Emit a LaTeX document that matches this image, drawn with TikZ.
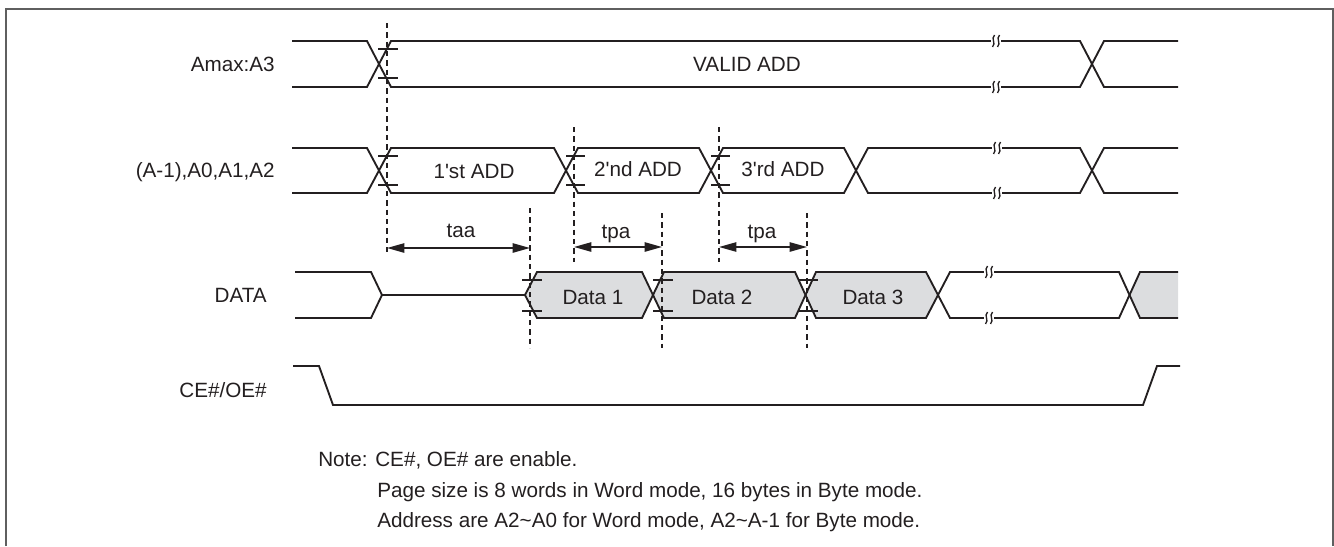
\documentclass[tikz,border=0pt]{standalone}
\usepackage{fontspec}
\setmainfont{Liberation Sans}
\usetikzlibrary{arrows.meta}
\definecolor{ink}{RGB}{35,31,32}
\definecolor{datagray}{RGB}{220,221,223}
\definecolor{framegray}{RGB}{95,95,95}
\tikzstyle{signame} = [anchor=east, text=ink, inner sep=0pt, text height=11pt, text depth=0pt]
\tikzstyle{txt} = [text=ink, inner sep=0pt, text height=11pt, text depth=0pt]
\tikzstyle{note} = [anchor=base west, text=ink, inner sep=0pt]
\tikzstyle{wave} = [draw=ink, line width=1.4pt, line join=miter]
\tikzstyle{guide} = [draw=ink, line width=1.1pt, dash pattern=on 4pt off 3pt]
\tikzstyle{tickmark} = [draw=ink, line width=1.1pt]
\tikzstyle{brk} = [draw=ink, line width=1pt]
\tikzstyle{arrow} = [draw=ink, line width=1.1pt, {Stealth[length=13pt,width=7pt,inset=0pt]}-{Stealth[length=13pt,width=7pt,inset=0pt]}]
\newcommand{\brkmark}[2]{%
  \fill[white] (#1-5,#2-1) rectangle (#1+5,#2+1);
  \draw[brk] (#1-1.5,#2-6) .. controls (#1-5.5,#2-2) and (#1+0.5,#2+2) .. (#1-3.5,#2+6);
  \draw[brk] (#1+3.5,#2-6) .. controls (#1-0.5,#2-2) and (#1+5.5,#2+2) .. (#1+1.5,#2+6);}

\begin{document}
\begin{tikzpicture}[x=0.75pt, y=-0.75pt, font=\fontsize{15.5}{18}\selectfont]
\useasboundingbox (0,0) rectangle (1334,546);

% Frame
\draw[framegray, line width=1pt] (6,546) -- (6,9) -- (1333,9) -- (1333,546);

% Signal names
\node (amax) [signame] at (275,64) {Amax:A3};
\node (addr) [signame] at (275,170) {(A-1),A0,A1,A2};
\node (data) [signame] at (267,295) {DATA};
\node (ceoe) [signame] at (267,390) {CE\#/OE\#};

% Amax:A3
\draw[wave] (292,41) -- (367,41) -- (391,87) -- (1080,87) -- (1104,41) -- (1178,41);
\draw[wave] (292,87) -- (367,87) -- (391,41) -- (1080,41) -- (1104,87) -- (1178,87);
\node (valid) [txt] at (747,64) {VALID ADD};

% (A-1),A0,A1,A2
\draw[wave] (292,148) -- (367,148) -- (391,193) -- (554,193) -- (578,148) -- (699,148) -- (723,193) -- (844,193) -- (868,148) -- (1080,148) -- (1104,193) -- (1178,193);
\draw[wave] (292,193) -- (367,193) -- (391,148) -- (554,148) -- (578,193) -- (699,193) -- (723,148) -- (844,148) -- (868,193) -- (1080,193) -- (1104,148) -- (1178,148);
\node (add1) [txt] at (474,171) {1\textquotesingle st ADD};
\node (add2) [txt] at (638,169) {2\textquotesingle nd ADD};
\node (add3) [txt] at (783,169) {3\textquotesingle rd ADD};

% DATA
\fill[datagray] (525,295) -- (537,272) -- (642,272) -- (653,295) -- (642,318) -- (537,318) -- cycle;
\fill[datagray] (653,295) -- (664,272) -- (795,272) -- (805.5,295) -- (795,318) -- (664,318) -- cycle;
\fill[datagray] (805.5,295) -- (816,272) -- (926,272) -- (938,295) -- (926,318) -- (816,318) -- cycle;
\fill[datagray] (1129.5,295) -- (1140,272) -- (1178,272) -- (1178,318) -- (1140,318) -- cycle;
\draw[wave] (295,272) -- (371,272) -- (382,295) -- (525,295) -- (537,272) -- (642,272) -- (664,318) -- (795,318) -- (816,272) -- (926,272) -- (950,318) -- (1119,318) -- (1140,272) -- (1178,272);
\draw[wave] (295,318) -- (371,318) -- (382,295);
\draw[wave] (525,295) -- (537,318) -- (642,318) -- (664,272) -- (795,272) -- (816,318) -- (926,318) -- (950,272) -- (1119,272) -- (1140,318) -- (1178,318);
\node (d1) [txt] at (593,297) {Data 1};
\node (d2) [txt] at (722,297) {Data 2};
\node (d3) [txt] at (873,297) {Data 3};

% CE#/OE#
\draw[wave] (293,366) -- (319,366) -- (333,405) -- (1143,405) -- (1157,366) -- (1180,366);

% Break marks
\brkmark{996}{41}
\brkmark{996}{87}
\brkmark{997}{148}
\brkmark{997}{193}
\brkmark{989}{272}
\brkmark{989}{318}

% Guide lines
\draw[guide] (387,23) -- (387,252);
\draw[guide] (574,127) -- (574,262);
\draw[guide] (719,127) -- (719,262);
\draw[guide] (530,208) -- (530,348);
\draw[guide] (662,213) -- (662,348);
\draw[guide] (807,213) -- (807,348);

% Setup marks
\draw[tickmark] (378,49) -- (398,49);
\draw[tickmark] (378,78) -- (398,78);
\draw[tickmark] (378,156) -- (398,156);
\draw[tickmark] (378,185) -- (398,185);
\draw[tickmark] (566,156) -- (585,156);
\draw[tickmark] (566,185) -- (585,185);
\draw[tickmark] (711,156) -- (730,156);
\draw[tickmark] (711,185) -- (730,185);
\draw[tickmark] (522,280) -- (542,280);
\draw[tickmark] (522,311) -- (542,311);
\draw[tickmark] (653,280) -- (673,280);
\draw[tickmark] (653,311) -- (673,311);
\draw[tickmark] (798,280) -- (818,280);
\draw[tickmark] (798,311) -- (818,311);

% Timing arrows
\coordinate (taaL) at (387,248);
\coordinate (taaR) at (530,248);
\coordinate (tpa1L) at (574,247);
\coordinate (tpa1R) at (662,247);
\coordinate (tpa2L) at (719,247);
\coordinate (tpa2R) at (807,247);
\draw[arrow] (taaL) -- (taaR);
\draw[arrow] (tpa1L) -- (tpa1R);
\draw[arrow] (tpa2L) -- (tpa2R);
\node (taa) [txt] at (461,230) {taa};
\node (tpa1) [txt] at (616,231) {tpa};
\node (tpa2) [txt] at (762,231) {tpa};

% Notes
\node (note) [note] at (318,466) {Note: CE\#, OE\# are enable.};
\node (pagesize) [note] at (377,497) {Page size is 8 words in Word mode, 16 bytes in Byte mode.};
\node (addrnote) [note] at (377,527) {Address are A2\textasciitilde A0 for Word mode, A2\textasciitilde A-1 for Byte mode.};

\end{tikzpicture}
\end{document}
